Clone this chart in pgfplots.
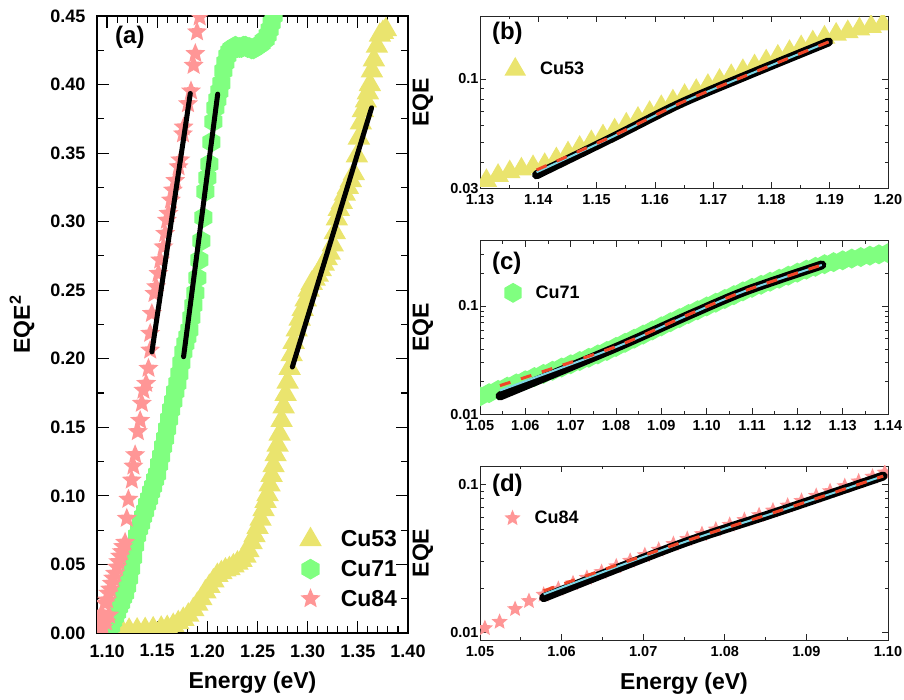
\documentclass[border=0pt]{standalone}
\usepackage{pgfplots}
\pgfplotsset{compat=1.18}
\usepackage{fontspec}
\setmainfont{Liberation Sans}
\usetikzlibrary{plotmarks}

\definecolor{cuY}{RGB}{234,228,110}
\definecolor{cuG}{RGB}{128,255,128}
\definecolor{cuP}{RGB}{255,150,150}
\definecolor{fitC}{RGB}{125,215,230}
\definecolor{fitR}{RGB}{240,70,40}

\pgfdeclareplotmark{hexagon*}{%
  \pgfpathmoveto{\pgfpointpolar{90}{\pgfplotmarksize}}%
  \pgfpathlineto{\pgfpointpolar{150}{\pgfplotmarksize}}%
  \pgfpathlineto{\pgfpointpolar{210}{\pgfplotmarksize}}%
  \pgfpathlineto{\pgfpointpolar{270}{\pgfplotmarksize}}%
  \pgfpathlineto{\pgfpointpolar{330}{\pgfplotmarksize}}%
  \pgfpathlineto{\pgfpointpolar{30}{\pgfplotmarksize}}%
  \pgfpathclose
  \pgfusepathqfill
}
\pgfdeclareplotmark{fstar}{%
  \pgfpathmoveto{\pgfpointpolar{90}{\pgfplotmarksize}}%
  \pgfpathlineto{\pgfpointpolar{126}{0.45\pgfplotmarksize}}%
  \pgfpathlineto{\pgfpointpolar{162}{\pgfplotmarksize}}%
  \pgfpathlineto{\pgfpointpolar{198}{0.45\pgfplotmarksize}}%
  \pgfpathlineto{\pgfpointpolar{234}{\pgfplotmarksize}}%
  \pgfpathlineto{\pgfpointpolar{270}{0.45\pgfplotmarksize}}%
  \pgfpathlineto{\pgfpointpolar{306}{\pgfplotmarksize}}%
  \pgfpathlineto{\pgfpointpolar{342}{0.45\pgfplotmarksize}}%
  \pgfpathlineto{\pgfpointpolar{18}{\pgfplotmarksize}}%
  \pgfpathlineto{\pgfpointpolar{54}{0.45\pgfplotmarksize}}%
  \pgfpathclose
  \pgfusepathqfill
}
\pgfdeclareplotmark{tri}{%
  \pgfpathmoveto{\pgfpointpolar{90}{\pgfplotmarksize}}%
  \pgfpathlineto{\pgfpointpolar{210}{\pgfplotmarksize}}%
  \pgfpathlineto{\pgfpointpolar{330}{\pgfplotmarksize}}%
  \pgfpathclose
  \pgfusepathqfill
}

\newcommand{\fs}[1]{\bfseries\fontsize{#1}{#1}\selectfont}

\pgfplotsset{
  base/.style={scale only axis, anchor=south west, tick align=inside,
    clip marker paths=true,
    xticklabel={\pgfmathprintnumber[fixed,fixed zerofill,precision=2,assume math mode=true]{\tick}},
    legend cell align=left,
    every axis label/.append style={font=\fs{23}},
  },
  small/.style={base, width=408pt,
    axis line style={black!85, line width=0.8pt},
    every tick/.style={black!85, line width=0.7pt},
    major tick length=6pt, minor tick length=3.5pt,
    tick label style={font=\fs{14.5}},
    xticklabel style={yshift=-3pt},
    yticklabel style={xshift=2pt},
    ylabel style={at={(axis description cs:-0.14,0.5)}, anchor=center},
    ylabel={EQE},
    minor x tick num=1,
    legend style={draw=none, fill=none, font=\fs{18}, anchor=west, column sep=12pt},
  },
}

\begin{document}
\begin{tikzpicture}
\useasboundingbox (0,0) rectangle (904pt,700pt);

% ---------------- (a) ----------------
\begin{axis}[base, at={(97pt,67pt)}, width=311pt, height=617pt,
  xmin=1.09, xmax=1.40, ymin=0, ymax=0.45,
  xtick={1.10,1.15,1.20,1.25,1.30,1.35,1.40},
  ytick={0,0.05,0.10,0.15,0.20,0.25,0.30,0.35,0.40,0.45},
  yticklabel={\pgfmathprintnumber[fixed,fixed zerofill,precision=2,assume math mode=true]{\tick}},
  minor x tick num=4, minor y tick num=1,
  major tick length=12pt, minor tick length=7pt,
  axis line style={black, line width=1.4pt},
  every tick/.style={black, line width=1.1pt},
  tick label style={font=\fs{18}},
  xticklabel style={yshift=-8pt},
  yticklabel style={xshift=-8pt},
  xlabel={Energy (eV)}, ylabel={EQE\textsuperscript{2}},
  xlabel style={at={(axis description cs:0.5,-0.081)}, anchor=center},
  ylabel style={at={(axis description cs:-0.241,0.5)}, anchor=center},
  legend style={draw=none, fill=none, font=\fs{23}, at={(axis description cs:0.64,0.176)}, anchor=north west, row sep=8pt, column sep=17pt},
]
\addplot[only marks, mark=tri, mark size=13pt, color=cuY] coordinates {
(1.108,0.001)(1.115,0.0015)(1.122,0.002)(1.130,0.0022)(1.138,0.0025)(1.146,0.003)
(1.154,0.0035)(1.160,0.004)(1.166,0.0055)(1.171,0.0075)(1.176,0.010)(1.181,0.013)
(1.186,0.017)(1.190,0.021)(1.194,0.025)(1.198,0.030)(1.202,0.034)(1.206,0.038)
(1.210,0.042)(1.214,0.044)(1.218,0.046)(1.222,0.047)(1.226,0.049)(1.230,0.051)
(1.234,0.053)(1.238,0.056)(1.241,0.060)(1.244,0.066)(1.247,0.071)(1.250,0.077)
(1.253,0.083)(1.256,0.090)(1.258,0.096)(1.260,0.101)(1.262,0.108)(1.264,0.115)
(1.266,0.122)(1.268,0.130)(1.270,0.137)(1.272,0.145)(1.274,0.155)(1.276,0.165)
(1.278,0.174)(1.280,0.183)(1.282,0.193)(1.284,0.203)(1.286,0.212)(1.289,0.221)
(1.292,0.229)(1.295,0.236)(1.298,0.243)(1.301,0.250)(1.304,0.255)(1.307,0.258)
(1.310,0.261)(1.313,0.265)(1.316,0.269)(1.319,0.273)(1.322,0.277)(1.325,0.283)
(1.327,0.292)(1.329,0.302)(1.331,0.309)(1.334,0.314)(1.337,0.320)(1.340,0.325)
(1.343,0.330)(1.346,0.335)(1.349,0.348)(1.351,0.361)(1.353,0.372)(1.355,0.381)
(1.358,0.388)(1.360,0.394)(1.362,0.400)(1.364,0.410)(1.366,0.418)(1.369,0.428)
(1.372,0.436)(1.375,0.438)(1.378,0.440)
};
\addlegendentry{Cu53}
\addplot[only marks, mark=hexagon*, mark size=10.4pt, color=cuG] coordinates {
(1.100,0.000)(1.102,0.002)(1.104,0.005)(1.106,0.009)(1.108,0.012)(1.110,0.015)
(1.112,0.019)(1.114,0.022)(1.116,0.026)(1.118,0.029)(1.120,0.034)(1.122,0.040)
(1.124,0.047)(1.126,0.055)(1.128,0.064)(1.130,0.071)(1.132,0.076)(1.134,0.080)
(1.136,0.085)(1.138,0.089)(1.140,0.094)(1.142,0.098)(1.144,0.103)(1.146,0.107)
(1.148,0.112)(1.150,0.116)(1.152,0.123)(1.154,0.129)(1.156,0.136)(1.158,0.142)
(1.160,0.149)(1.162,0.156)(1.164,0.163)(1.166,0.169)(1.168,0.176)(1.170,0.182)
(1.172,0.189)(1.174,0.197)(1.176,0.205)(1.178,0.211)(1.180,0.216)(1.182,0.221)
(1.184,0.230)(1.186,0.239)(1.188,0.248)(1.190,0.259)(1.192,0.272)(1.194,0.286)
(1.196,0.303)(1.198,0.322)(1.200,0.332)(1.202,0.342)(1.204,0.358)(1.206,0.373)
(1.208,0.383)(1.210,0.389)(1.212,0.395)(1.214,0.401)(1.216,0.410)(1.218,0.416)
(1.220,0.421)(1.222,0.424)(1.224,0.426)(1.226,0.427)(1.228,0.428)(1.230,0.427)
(1.232,0.427)(1.234,0.427)(1.236,0.428)(1.238,0.428)(1.240,0.427)(1.242,0.427)
(1.244,0.426)(1.246,0.426)(1.248,0.427)(1.250,0.428)(1.252,0.429)(1.254,0.430)
(1.256,0.432)(1.258,0.433)(1.260,0.436)(1.262,0.440)(1.264,0.445)(1.266,0.450)
(1.268,0.456)
};
\addlegendentry{Cu71}
\addplot[only marks, mark=fstar, mark size=10.5pt, color=cuP] coordinates {
(1.093,0.002)(1.096,0.004)(1.093,0.007)(1.099,0.008)(1.096,0.010)(1.102,0.013)
(1.0947,0.0144)(1.098,0.0217)(1.100,0.024)(1.1013,0.029)(1.103,0.032)(1.1047,0.0362)
(1.106,0.040)(1.108,0.0435)(1.110,0.048)(1.1113,0.052)(1.113,0.056)(1.1147,0.0593)
(1.116,0.063)(1.118,0.0661)(1.1197,0.0836)(1.1213,0.0975)(1.1247,0.1115)(1.1263,0.1217)
(1.128,0.130)(1.1307,0.1468)(1.133,0.155)(1.1347,0.1675)(1.1363,0.177)(1.139,0.182)
(1.1413,0.193)(1.143,0.2063)(1.143,0.2185)(1.1447,0.233)(1.1473,0.2476)(1.149,0.2525)
(1.1513,0.2622)(1.153,0.272)(1.1563,0.2816)(1.158,0.2914)(1.1597,0.301)(1.1613,0.306)
(1.1637,0.3157)(1.1657,0.323)(1.168,0.330)(1.1713,0.340)(1.173,0.345)(1.1757,0.364)
(1.1763,0.369)(1.1807,0.386)(1.1837,0.3953)(1.1863,0.414)(1.188,0.4226)(1.1897,0.4384)
(1.1923,0.4493)
};
\addlegendentry{Cu84}
\addplot[black, line width=5pt, line cap=round, forget plot] coordinates {(1.1447,0.205)(1.183,0.3935)};
\addplot[black, line width=5pt, line cap=round, forget plot] coordinates {(1.1763,0.2015)(1.2103,0.393)};
\addplot[black, line width=5pt, line cap=round, forget plot] coordinates {(1.2847,0.194)(1.3637,0.383)};
\node[anchor=west, inner sep=0pt, font=\fs{24}] at (rel axis cs:0.058,0.966) {(a)};
\end{axis}

% ---------------- (b) ----------------
\begin{axis}[small, ymode=log, at={(480pt,511.7pt)}, height=172.3pt,
  xmin=1.13, xmax=1.20, ymin=0.03, ymax=0.2,
  xtick={1.13,1.14,1.15,1.16,1.17,1.18,1.19,1.20},
  ytick={0.03,0.1}, yticklabels={0.03,0.1},
  minor ytick={0.04,0.05,0.06,0.07,0.08,0.09,0.2},
  legend style={at={(axis description cs:0.052,0.70)}},
]
\addplot[only marks, mark=tri, mark size=12.5pt, color=cuY] coordinates {
(1.1311,0.0326)(1.1331,0.0345)(1.1351,0.0359)(1.1371,0.0370)(1.1391,0.0380)
(1.1411,0.0389)(1.1431,0.0414)(1.1451,0.0442)(1.1471,0.0470)(1.1491,0.0500)
(1.1511,0.0533)(1.1531,0.0569)(1.1551,0.0607)(1.1571,0.0647)(1.1591,0.0690)
(1.1611,0.0736)(1.1631,0.0783)(1.1651,0.0832)(1.1671,0.0879)(1.1691,0.0929)
(1.1711,0.0982)(1.1731,0.1035)(1.1751,0.1094)(1.1771,0.1153)(1.1791,0.1216)
(1.1811,0.1282)(1.1831,0.1349)(1.1851,0.1422)(1.1871,0.1500)(1.1891,0.1581)
(1.1911,0.1633)(1.1931,0.1679)(1.1951,0.1730)(1.1971,0.1778)(1.1991,0.1828)
};
\addlegendentry{Cu53}
\addplot[black, line width=9pt, line cap=round, smooth, forget plot] coordinates {(1.1397,0.0348)(1.1529,0.0527)(1.1643,0.0761)(1.1758,0.104)(1.1898,0.1503)};
\addplot[fitC, line width=2pt, smooth, forget plot] coordinates {(1.1397,0.0358)(1.1529,0.0531)(1.1643,0.0763)(1.1758,0.1041)(1.1898,0.1503)};
\addplot[fitR, line width=3pt, smooth, dash pattern=on 11pt off 11pt, forget plot] coordinates {(1.1397,0.0367)(1.1529,0.0535)(1.1643,0.0765)(1.1758,0.1042)(1.1898,0.1503)};
\node[anchor=west, inner sep=0pt, font=\fs{24}] at (rel axis cs:0.029,0.901) {(b)};
\end{axis}

% ---------------- (c) ----------------
\begin{axis}[small, ymode=log, at={(480pt,285.7pt)}, height=173.5pt,
  xmin=1.05, xmax=1.14, ymin=0.01, ymax=0.4,
  xtick={1.05,1.06,1.07,1.08,1.09,1.10,1.11,1.12,1.13,1.14},
  ytick={0.01,0.1}, yticklabels={0.01,0.1},
  minor ytick={0.02,0.03,0.04,0.05,0.06,0.07,0.08,0.09,0.2,0.3,0.4},
  legend style={at={(axis description cs:0.052,0.70)}},
]
\addplot[only marks, mark=hexagon*, mark size=10pt, color=cuG] coordinates {
(1.050,0.01462)(1.052,0.01567)(1.054,0.01679)(1.056,0.01799)(1.058,0.01928)
(1.060,0.02061)(1.062,0.02208)(1.064,0.02360)(1.066,0.02523)(1.068,0.02704)
(1.070,0.02897)(1.072,0.03105)(1.074,0.03327)(1.076,0.03573)(1.078,0.03846)
(1.080,0.04188)(1.082,0.04571)(1.084,0.04989)(1.086,0.05445)(1.088,0.05943)
(1.090,0.06486)(1.092,0.07079)(1.094,0.07727)(1.096,0.08433)(1.098,0.09141)
(1.100,0.09908)(1.102,0.1072)(1.104,0.1161)(1.106,0.1259)(1.108,0.1365)
(1.110,0.1472)(1.112,0.1570)(1.114,0.1675)(1.116,0.1786)(1.118,0.1905)
(1.120,0.2032)(1.122,0.2168)(1.124,0.2301)(1.126,0.2432)(1.128,0.2541)
(1.130,0.2642)(1.132,0.2742)(1.134,0.2831)(1.136,0.2917)(1.138,0.2999)
(1.140,0.3076)
};
\addlegendentry{Cu71}
\addplot[black, line width=9pt, line cap=round, smooth, forget plot] coordinates {(1.0544,0.01476)(1.0794,0.0403)(1.0963,0.0832)(1.1088,0.1387)(1.1254,0.2393)};
\addplot[fitC, line width=2pt, smooth, forget plot] coordinates {(1.0544,0.0166)(1.0794,0.0408)(1.0963,0.0838)(1.1088,0.1393)(1.1254,0.2393)};
\addplot[fitR, line width=3pt, smooth, dash pattern=on 11pt off 11pt, forget plot] coordinates {(1.0544,0.0184)(1.0794,0.0413)(1.0963,0.0845)(1.1088,0.140)(1.1254,0.2393)};
\node[anchor=west, inner sep=0pt, font=\fs{24}] at (rel axis cs:0.029,0.872) {(c)};
\end{axis}

% ---------------- (d) ----------------
\begin{axis}[small, ymode=log, at={(480pt,60pt)}, height=174pt,
  xmin=1.05, xmax=1.10, ymin=0.0089, ymax=0.133,
  xtick={1.05,1.06,1.07,1.08,1.09,1.10},
  ytick={0.01,0.1}, yticklabels={0.01,0.1},
  minor ytick={0.02,0.03,0.04,0.05,0.06,0.07,0.08,0.09},
  xlabel={Energy (eV)},
  xlabel style={at={(axis description cs:0.5,-0.25)}, anchor=center},
  legend style={at={(axis description cs:0.052,0.70)}},
]
\addplot[only marks, mark=fstar, mark size=8.5pt, color=cuP] coordinates {
(1.0506,0.0107)(1.0524,0.0118)(1.0543,0.0144)(1.0560,0.0163)(1.0578,0.0180)
(1.0596,0.0197)(1.0614,0.0215)(1.0631,0.0234)(1.0649,0.0256)(1.0667,0.0280)
(1.0684,0.0305)(1.0702,0.0333)(1.0719,0.0362)(1.0737,0.0396)(1.0754,0.0428)
(1.0772,0.0462)(1.0789,0.0496)(1.0806,0.0533)(1.0824,0.0575)(1.0842,0.0620)
(1.0859,0.0666)(1.0877,0.0719)(1.0894,0.0774)(1.0912,0.0836)(1.0929,0.0900)
(1.0947,0.0973)(1.0964,0.1047)(1.0981,0.1127)(1.0996,0.1202)
};
\addlegendentry{Cu84}
\addplot[black, line width=9pt, line cap=round, smooth, forget plot] coordinates {(1.0578,0.0172)(1.0745,0.0394)(1.0868,0.0661)(1.0994,0.1137)};
\addplot[fitC, line width=2pt, smooth, forget plot] coordinates {(1.0578,0.0181)(1.0745,0.0398)(1.0868,0.0663)(1.0994,0.1137)};
\addplot[fitR, line width=3pt, smooth, dash pattern=on 11pt off 11pt, forget plot] coordinates {(1.0578,0.0191)(1.0745,0.0402)(1.0868,0.0666)(1.0994,0.1137)};
\node[anchor=west, inner sep=0pt, font=\fs{24}] at (rel axis cs:0.029,0.891) {(d)};
\end{axis}
\end{tikzpicture}
\end{document}
